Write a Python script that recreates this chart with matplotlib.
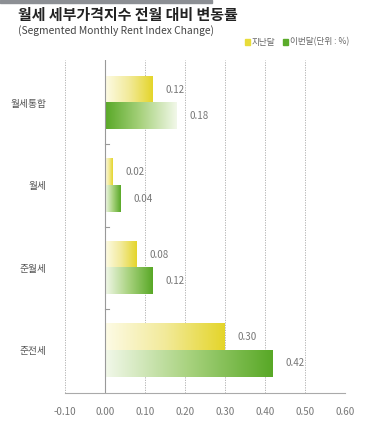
import numpy as np
import matplotlib.pyplot as plt
from matplotlib.colors import LinearSegmentedColormap

plt.rcParams['font.family'] = ['Noto Sans CJK KR', 'DejaVu Sans']

# data
categories = ['월세통합', '월세', '준월세', '준전세']
last_month = [0.12, 0.02, 0.08, 0.30]
this_month = [0.18, 0.04, 0.12, 0.42]
xticks = [-0.10, 0.00, 0.10, 0.20, 0.30, 0.40, 0.50, 0.60]

yellow = LinearSegmentedColormap.from_list('y', ['#fdfbe6', '#f2ea9a', '#e4d52a'])
green = LinearSegmentedColormap.from_list('g', ['#f2f8ea', '#a8d27e', '#58a826'])

fig = plt.figure(figsize=(3.84, 4.30), dpi=100)
ax = fig.add_axes([0.169, 0.086, 0.729, 0.774])

y = np.arange(len(categories))
h = 0.32
bars_y = ax.barh(y - h / 2, last_month, height=h, color='none')
bars_g = ax.barh(y + h / 2, this_month, height=h, color='none')

grad = np.linspace(0, 1, 256).reshape(1, -1)
for i, (by, bg) in enumerate(zip(bars_y, bars_g)):
    for b, cmap, rev in ((by, yellow, False), (bg, green, i == 0)):
        x0, y0, w, hh = b.get_x(), b.get_y(), b.get_width(), b.get_height()
        g = grad[:, ::-1] if rev else grad
        ax.imshow(g, cmap=cmap, aspect='auto', extent=(x0, x0 + w, y0 + hh, y0),
                  zorder=3, interpolation='bicubic')

for b, v in zip(bars_y, last_month):
    ax.annotate(f'{v:.2f}', (b.get_width(), b.get_y() + b.get_height() / 2),
                xytext=(9, 0), textcoords='offset points', va='center',
                fontsize=7, color='#777777')
for b, v in zip(bars_g, this_month):
    ax.annotate(f'{v:.2f}', (b.get_width(), b.get_y() + b.get_height() / 2),
                xytext=(9, 0), textcoords='offset points', va='center',
                fontsize=7, color='#777777')

ax.set_xlim(-0.10, 0.60)
ax.set_ylim(3.52, -0.52)
ax.set_xticks(xticks)
ax.set_xticklabels([f'{t:.2f}' for t in xticks], fontsize=7, color='#777777')
ax.tick_params(axis='x', length=0, pad=10)
ax.set_yticks(y)
ax.set_yticklabels(categories, fontsize=7, color='#555555')
ax.tick_params(axis='y', length=0, pad=13)

for t in xticks:
    if t != 0:
        ax.axvline(t, color='#aaaaaa', lw=0.6, ls=(0, (1.5, 1.5)), zorder=1)
ax.axvline(0, color='#999999', lw=0.8, zorder=4)
for s in (0.5, 1.5, 2.5):
    ax.plot([0, 0.01], [s, s], color='#999999', lw=0.8, zorder=4)

for s in ('top', 'right', 'left'):
    ax.spines[s].set_visible(False)
ax.spines['bottom'].set_color('#aaaaaa')
ax.spines['bottom'].set_linewidth(0.8)

# header
fig.patches.append(plt.Rectangle((0, 0.993), 0.552, 0.007, transform=fig.transFigure,
                                 color='#8c8f94'))
fig.text(0.047, 0.965, '월세 세부가격지수 전월 대비 변동률', fontsize=10.8,
         fontweight='bold', color='#222222', va='center')
fig.text(0.047, 0.93, '(Segmented Monthly Rent Index Change)', fontsize=7.4,
         color='#444444', va='center')

# legend
fig.patches.append(plt.Rectangle((0.638, 0.896), 0.013, 0.013, transform=fig.transFigure,
                                 color='#e8dc3a'))
fig.text(0.656, 0.902, '지난달', fontsize=6.2, color='#666666', va='center')
fig.patches.append(plt.Rectangle((0.738, 0.896), 0.013, 0.013, transform=fig.transFigure,
                                 color='#5aab2a'))
fig.text(0.756, 0.902, '이번달(단위 : %)', fontsize=6.2, color='#666666', va='center')

fig.savefig('out.png', dpi=100)
